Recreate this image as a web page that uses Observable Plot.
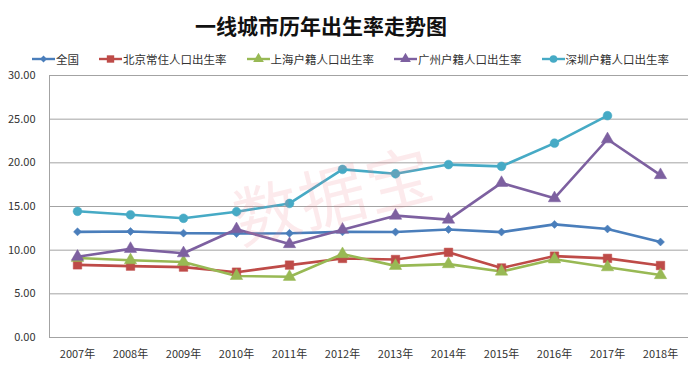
<!DOCTYPE html>
<html>
<head>
<meta charset="utf-8">
<script src="https://cdn.jsdelivr.net/npm/d3@7"></script>
<script src="https://cdn.jsdelivr.net/npm/@observablehq/plot@0.6"></script>
<style>
  html, body { margin: 0; padding: 0; background: #fff; }
  body { width: 700px; height: 373px; position: relative; overflow: hidden; font-family: "Noto Sans CJK SC", "Noto Sans", sans-serif; }
  #title { position: absolute; left: 0; top: 10px; width: 642px; text-align: center; font-size: 21px; font-weight: bold; color: #111; line-height: 30px; }
  #legend { position: absolute; left: 32px; top: 50px; height: 18px; display: flex; gap: 20px; align-items: center; font-size: 11.5px; color: #333; }
  .item { display: flex; align-items: center; gap: 1px; white-space: nowrap; }
  #chart { position: absolute; left: 0; top: 62px; }
  #wm { position: absolute; left: 222px; top: 170px; font-size: 66px; font-weight: normal; color: rgba(238,130,145,0.17); transform: rotate(-14deg); transform-origin: left top; pointer-events: none; letter-spacing: 2px; }
</style>
</head>
<body>
<div id="title">一线城市历年出生率走势图</div>
<div id="legend"></div>
<div id="chart"></div>
<div id="wm">数据宝</div>
<script>
const years = ["2007年","2008年","2009年","2010年","2011年","2012年","2013年","2014年","2015年","2016年","2017年","2018年"];
const seriesNames = ["全国","北京常住人口出生率","上海户籍人口出生率","广州户籍人口出生率","深圳户籍人口出生率"];
const national  = [12.10,12.14,11.95,11.90,11.93,12.10,12.08,12.37,12.07,12.95,12.43,10.94];
const beijing   = [8.32,8.17,8.06,7.48,8.29,9.05,8.93,9.75,7.96,9.32,9.06,8.24];
const shanghai  = [9.10,8.85,8.65,7.05,6.95,9.55,8.20,8.40,7.55,8.95,8.05,7.15];
const guangzhou = [9.25,10.15,9.65,12.40,10.70,12.35,13.95,13.50,17.70,15.95,22.70,18.60];
const shenzhen  = [14.45,14.05,13.65,14.40,15.35,19.25,18.75,19.80,19.60,22.25,25.40,null];
const yTicks = [0,5,10,15,20,25,30];

const colors  = ["#4A7EBB","#BE4B48","#98B954","#7D60A0","#46AAC5"];
const symbols = ["diamond2","square","triangle","triangle","circle"];
const radii   = [3.6,4.8,4.6,4.6,4.4];
const values  = [national, beijing, shanghai, guangzhou, shenzhen];

const rows = [];
seriesNames.forEach((s, i) => values[i].forEach((v, j) => rows.push({series: s, year: years[j], value: v})));

const marks = [
  Plot.ruleY(yTicks, {stroke: "#a3a3a3", strokeWidth: 1}),
  Plot.frame({anchor: "left", stroke: "#a3a3a3"})
];
seriesNames.forEach((s, i) => {
  const d = rows.filter(r => r.series === s);
  marks.push(Plot.line(d, {x: "year", y: "value", stroke: colors[i], strokeWidth: 2.6, defined: r => r.value != null}));
});
seriesNames.forEach((s, i) => {
  const d = rows.filter(r => r.series === s && r.value != null);
  marks.push(Plot.dot(d, {x: "year", y: "value", fill: colors[i], stroke: colors[i], strokeWidth: 0.5, symbol: () => symbols[i], r: radii[i]}));
});

const chart = Plot.plot({
  width: 700,
  height: 311,
  marginTop: 13,
  marginBottom: 36,
  marginLeft: 49,
  marginRight: 12,
  style: {fontFamily: "'Noto Sans CJK SC', 'Noto Sans', sans-serif", fontSize: "11px", color: "#333", background: "transparent", overflow: "visible"},
  x: {type: "point", domain: years, padding: 0.5, label: null, tickSize: 0, tickPadding: 13},
  y: {domain: [0, 30], ticks: yTicks, tickFormat: d3.format(".2f"), label: null, tickSize: 0, tickPadding: 14},
  symbol: {type: "identity"},
  marks
});
document.getElementById("chart").appendChild(chart);

// legend
const legend = d3.select("#legend");
const symTypes = {diamond2: d3.symbolDiamond2, square: d3.symbolSquare, triangle: d3.symbolTriangle, circle: d3.symbolCircle};
seriesNames.forEach((s, i) => {
  const it = legend.append("div").attr("class", "item");
  const sv = it.append("svg").attr("width", 23).attr("height", 12);
  sv.append("line").attr("x1", 0).attr("x2", 23).attr("y1", 6).attr("y2", 6).attr("stroke", colors[i]).attr("stroke-width", 2.4);
  sv.append("path").attr("transform", "translate(11.5,6)")
    .attr("d", d3.symbol(symTypes[symbols[i]], Math.PI * radii[i] * radii[i] * 0.75)())
    .attr("fill", colors[i]);
  it.append("span").text(s);
});
</script>
</body>
</html>
